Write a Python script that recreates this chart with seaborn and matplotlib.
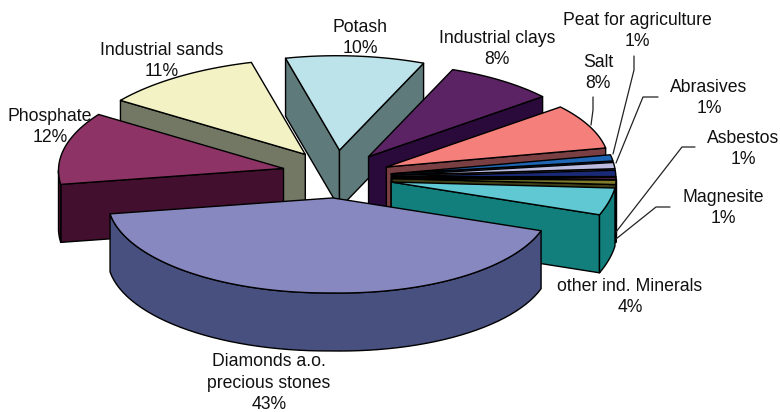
import numpy as np
import matplotlib
matplotlib.use("Agg")
import matplotlib.pyplot as plt
import seaborn as sns

sns.set_theme(style="white")
plt.rcParams['font.family'] = ['Liberation Sans', 'DejaVu Sans']

# ---- data (clockwise from the right-hand edge of the diamonds slice)
names = ["Diamonds a.o.\nprecious stones", "Phosphate", "Industrial sands", "Potash",
         "Industrial clays", "Salt", "Peat for agriculture", "Abrasives", "Asbestos",
         "", "Magnesite", "other ind. Minerals"]
values = [43, 12, 11, 10, 8, 8, 1.0, 1.0, 1.0, 0.3, 0.7, 4]
label_pct = ["43%", "12%", "11%", "10%", "8%", "8%", "1%", "1%", "1%", "", "1%", "4%"]

top_colors = ["#8888C0", "#8E3366", "#F2F2C4", "#BDE3EA", "#5B2364", "#F57F7B",
              "#1F67B5", "#BCBCE0", "#1B2A77", "#A64D9E", "#7E7C2C", "#5FC8D2"]
side_colors = ["#47507F", "#430F2F", "#737865", "#5E7A7A", "#2A0A3A", "#7A3F42",
               "#0D3A6E", "#5E5E80", "#0D1540", "#532650", "#3F3E16", "#127F7C"]
top_pal = sns.color_palette(top_colors)
side_pal = sns.color_palette(side_colors)

# ---- layout of the projection (pixels)
START = -17
CX, CY = 337, 174
EXPL_X, EXPL_Y = 55, 24
RX, RY, DEPTH = 222, 95, 58
# slight distortion of the 3D projection, by view angle
WARP_T = [-172, -90, -17, -2.6, 11.8, 40.6, 69.4, 105.4, 145, 188]
WARP_X = [-3, -2, -4, 2, 2, 5.5, 6, 5, -3, -3]
WARP_Y = [2.4, 0, 5, 1.7, 0.4, 1.8, 1.9, -0.4, 0.5, 2.4]

label_xy = [(269, 383), (50, 127), (162, 61), (360, 38), (497, 49), (598, 73),
            (637, 31), (709, 98), (743, 149), None, (723, 208), (630, 297)]
leaders = [[(593, 97), (593, 110), (591, 125)],
           [(634, 56), (634, 70), (613, 154)],
           [(658, 97), (643, 97), (616, 163)],
           [(695, 147), (682, 147), (616, 232)],
           [(670, 207), (656, 207), (616, 239)]]


def rim(t):
    t = np.asarray(t, float)
    r = np.radians(t)
    tn = (t + 172) % 360 - 172
    return (RX * np.cos(r) + np.interp(tn, WARP_T, WARP_X),
            -RY * np.sin(r) + np.interp(tn, WARP_T, WARP_Y))


fig = plt.figure(figsize=(7.8, 4.12), dpi=100)
ax = fig.add_axes([0, 0, 1, 1])
ax.set_xlim(0, 780)
ax.set_ylim(412, 0)
ax.axis("off")

vals = np.array(values, float)
angles = START - np.concatenate([[0], np.cumsum(vals / vals.sum() * 360)])
mids = (angles[:-1] + angles[1:]) / 2
order = np.argsort(-np.sin(np.radians(mids)))
EDGE = dict(edgecolor="black", linewidth=1.0, joinstyle="round")

for i in order:
    t1, t2 = angles[i], angles[i + 1]
    m = np.radians(mids[i])
    ax_ = CX + EXPL_X * np.cos(m)
    ay_ = CY - EXPL_Y * np.sin(m) + 4 * max(0, np.cos(m))
    side, top = side_pal[i], top_pal[i]

    # radial faces, when they look towards the viewer
    if np.sin(np.radians(t1 + 90)) < 0:
        dx, dy = rim(t1)
        ax.fill([ax_, ax_ + dx, ax_ + dx, ax_], [ay_, ay_ + dy, ay_ + dy + DEPTH, ay_ + DEPTH],
                facecolor=side, **EDGE)
    if np.sin(np.radians(t2 - 90)) < 0:
        dx, dy = rim(t2)
        ax.fill([ax_, ax_ + dx, ax_ + dx, ax_], [ay_, ay_ + dy, ay_ + dy + DEPTH, ay_ + DEPTH],
                facecolor=side, **EDGE)

    # outer rim, front half only
    for shift in (0, 360):
        lo, hi = max(t2 + shift, -180), min(t1 + shift, 0)
        if lo < hi:
            ts = np.linspace(hi, lo, 60)
            dx, dy = rim(ts)
            xs = ax_ + dx
            ys = ay_ + dy
            ax.fill(np.r_[xs, xs[::-1]], np.r_[ys, ys[::-1] + DEPTH], facecolor=side, **EDGE)

    # top surface
    ts = np.linspace(t1, t2, 80)
    dx, dy = rim(ts)
    ax.fill(np.r_[ax_, ax_ + dx], np.r_[ay_, ay_ + dy], facecolor=top, **EDGE)

for pts in leaders:
    xs, ys = zip(*pts)
    ax.plot(xs, ys, color="#222222", lw=0.9, solid_joinstyle="round")

for name, pct, xy in zip(names, label_pct, label_xy):
    if xy is None:
        continue
    ax.text(xy[0], xy[1], f"{name}\n{pct}", ha="center", va="center", fontsize=12.7,
            color="#111111", linespacing=1.33)

fig.savefig("out.png", dpi=100, facecolor="white")
